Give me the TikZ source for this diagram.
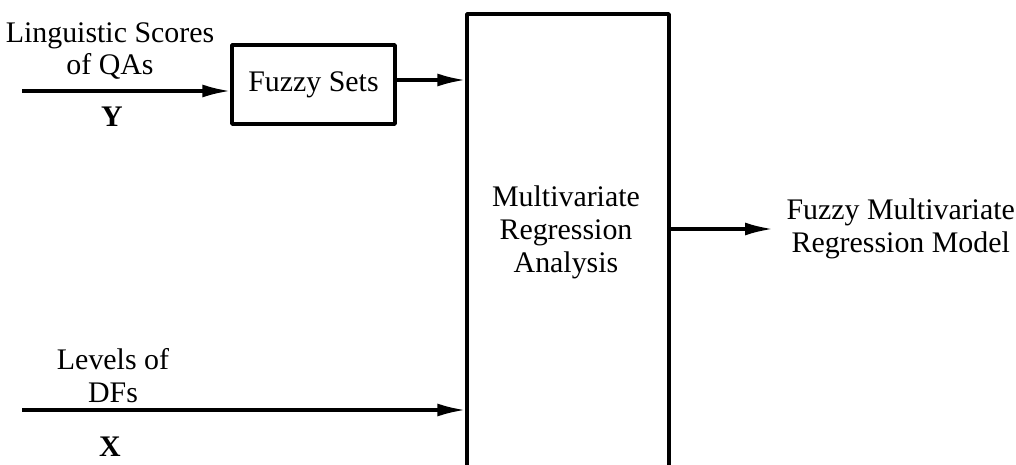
\documentclass[tikz,border=0pt]{standalone}
\usepackage{fontspec}
\setmainfont{Liberation Serif}
\usetikzlibrary{arrows.meta}
\begin{document}
\begin{tikzpicture}[>={Latex[length=14bp,width=6.5bp]},line join=bevel,
  font=\fontsize{15}{16.5}\selectfont,
  box/.style={draw,rectangle,inner sep=0pt},
  txt/.style={align=center,inner sep=0pt}]
  \pgfsetlinewidth{1.6bp}
  \useasboundingbox (0bp,0bp) rectangle (508bp,232.5bp);
  \clip (0bp,0bp) rectangle (508bp,232.5bp);
%%
\pgfsetcolor{black}
  % Node: FuzzySets
  \node [box,minimum width=81.5bp,minimum height=39.5bp] (fuzzy) at (156.75bp,190.25bp) {Fuzzy Sets};
  % Node: MRA (open at the bottom, runs off the page)
\begin{scope}
  \node [box,minimum width=101bp,minimum height=245.5bp] (mra) at (284bp,102.75bp) {};
  \node [txt] (mratext) at (283bp,116.5bp) {Multivariate\\Regression\\Analysis};
\end{scope}
  % Node: Model
  \node [txt,anchor=west,inner xsep=6bp] (model) at (386.5bp,118bp) {Fuzzy Multivariate\\Regression Model};
  % Inputs
  \coordinate (yin) at (11bp,187bp);
  \coordinate (xin) at (11bp,27.5bp);
  \node [txt] (ylabel) at (55bp,207bp) {Linguistic Scores\\of QAs};
  \node [txt] (yname) at (56bp,174bp) {\bfseries Y};
  \node [txt] (xlabel) at (56.5bp,44.5bp) {Levels of\\DFs};
  \node [txt] (xname) at (55bp,9bp) {\bfseries X};
  % Edge: Y -> FuzzySets
  \draw [->] (yin) -- (yin -| fuzzy.west);
  % Edge: FuzzySets -> MRA
  \draw [->] (fuzzy.east |- 0,192.5bp) -- (mra.west |- 0,192.5bp);
  % Edge: X -> MRA
  \draw [->] (xin) -- (xin -| mra.west);
  % Edge: MRA -> Model
  \draw [->] (mra.east |- model.west) -- (model.west);
%
\end{tikzpicture}
\end{document}
